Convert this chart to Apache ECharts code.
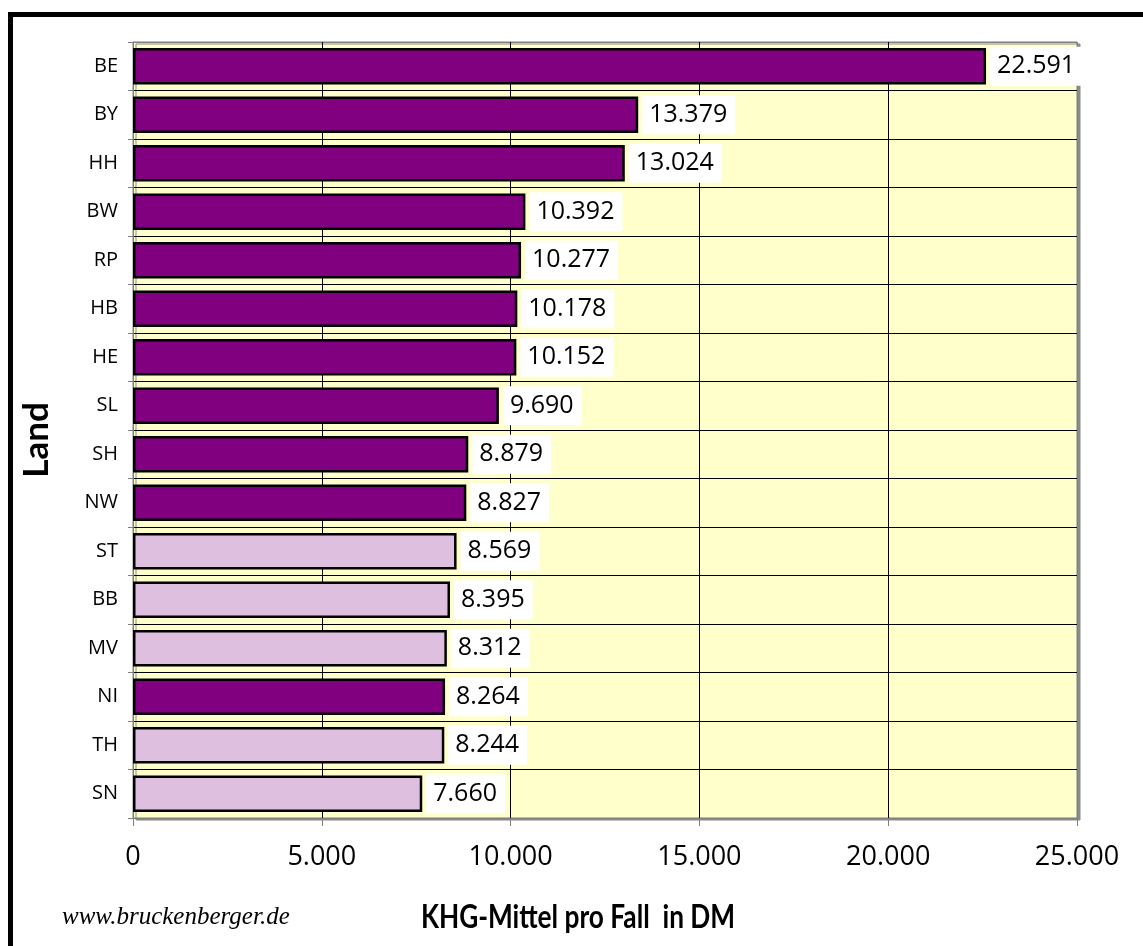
<!DOCTYPE html>
<html>
<head>
<meta charset="utf-8">
<title>KHG-Mittel pro Fall in DM</title>
<script src="https://cdn.jsdelivr.net/npm/echarts@6/dist/echarts.min.js"></script>
<style>
  html, body { margin: 0; padding: 0; background: #ffffff; }
  #chart { width: 1143px; height: 946px; }
</style>
</head>
<body>
<div id="chart"></div>
<script>
// Länder, sorted by KHG funding per case (DM)
const laender = ['BE', 'BY', 'HH', 'BW', 'RP', 'HB', 'HE', 'SL', 'SH', 'NW', 'ST', 'BB', 'MV', 'NI', 'TH', 'SN'];
const khgProFall = [22591, 13379, 13024, 10392, 10277, 10178, 10152, 9690, 8879, 8827, 8569, 8395, 8312, 8264, 8244, 7660];
// new Länder get the lighter fill
const neueLaender = ['ST', 'BB', 'MV', 'TH', 'SN'];
// value axis ticks
const xTicks = [0, 5000, 10000, 15000, 20000, 25000];

const FILL_ALT = '#800080';
const FILL_NEU = '#DFBFDF';
const LABEL_FONT = '"Open Sans", "Noto Sans", sans-serif';

// German thousands separator: 22591 -> "22.591"
function fmt(v) {
  return String(Math.round(v)).replace(/\B(?=(\d{3})+(?!\d))/g, '.');
}

const chart = echarts.init(document.getElementById('chart'), null, { renderer: 'canvas' });

// category boundaries: outer ones belong to the gray plot frame
const catSplitColors = laender.map(() => '#000000');
catSplitColors.push('#000000');
catSplitColors[0] = '#808080';
catSplitColors[catSplitColors.length - 1] = '#808080';

const valSplitColors = xTicks.map((t, i) => (i === 0 || i === xTicks.length - 1) ? '#808080' : '#000000');

chart.setOption({
  backgroundColor: '#ffffff',
  animation: false,
  textStyle: { fontFamily: LABEL_FONT },
  grid: {
    left: 133, top: 42, width: 944, height: 776,
    show: true,
    backgroundColor: '#FFFFCC',
    borderColor: '#808080',
    borderWidth: 1,
    shadowColor: '#8a8a8a',
    shadowOffsetX: 3,
    shadowOffsetY: 2,
    shadowBlur: 0
  },
  xAxis: {
    type: 'value',
    min: xTicks[0],
    max: xTicks[xTicks.length - 1],
    interval: xTicks[1] - xTicks[0],
    axisLine: { show: true, lineStyle: { color: '#808080', width: 1 } },
    axisTick: { show: true, length: 8, lineStyle: { color: '#808080' } },
    axisLabel: {
      margin: 26,
      fontSize: 27,
      fontFamily: LABEL_FONT,
      color: '#000',
      formatter: v => fmt(v)
    },
    splitLine: { show: true, lineStyle: { color: valSplitColors, width: 1 } }
  },
  yAxis: {
    type: 'category',
    data: laender,
    inverse: true,
    name: 'Land',
    nameLocation: 'middle',
    nameRotate: 90,
    nameGap: 79,
    nameTextStyle: {
      fontFamily: 'Lato, sans-serif',
      fontWeight: 'bold',
      fontSize: 35,
      color: '#000',
      padding: [0, 20, 0, 0]
    },
    axisLine: { show: true, lineStyle: { color: '#808080', width: 1 } },
    axisTick: { show: true, length: 5, lineStyle: { color: '#808080' } },
    axisLabel: { margin: 15, fontSize: 20, fontFamily: LABEL_FONT, color: '#000' },
    splitLine: { show: true, lineStyle: { color: catSplitColors, width: 1 } }
  },
  series: [{
    type: 'bar',
    barCategoryGap: '25%',
    data: khgProFall.map((v, i) => ({
      value: v,
      itemStyle: { color: neueLaender.includes(laender[i]) ? FILL_NEU : FILL_ALT }
    })),
    itemStyle: { borderColor: '#000000', borderWidth: 2.5 },
    label: {
      show: true,
      position: 'right',
      distance: 4,
      backgroundColor: '#ffffff',
      padding: [7, 8, 7, 7],
      fontSize: 25,
      fontFamily: LABEL_FONT,
      color: '#000',
      formatter: p => fmt(p.value)
    },
    z: 3
  }],
  graphic: [
    // outer frame (top and left edges)
    { type: 'rect', shape: { x: 8, y: 12, width: 1135, height: 5 }, style: { fill: '#000' }, silent: true },
    { type: 'rect', shape: { x: 8, y: 12, width: 5, height: 934 }, style: { fill: '#000' }, silent: true },
    // value axis title, condensed bold
    {
      type: 'text', x: 578, y: 918, scaleX: 0.82, silent: true,
      style: {
        text: 'KHG-Mittel pro Fall  in DM',
        font: 'bold 32px Lato, sans-serif',
        fill: '#000',
        align: 'center',
        verticalAlign: 'middle'
      }
    },
    {
      type: 'text', left: 62, top: 905, silent: true,
      style: {
        text: 'www.bruckenberger.de',
        font: 'italic 25px "Liberation Serif", "DejaVu Serif", serif',
        fill: '#000'
      }
    }
  ]
});
</script>
</body>
</html>
